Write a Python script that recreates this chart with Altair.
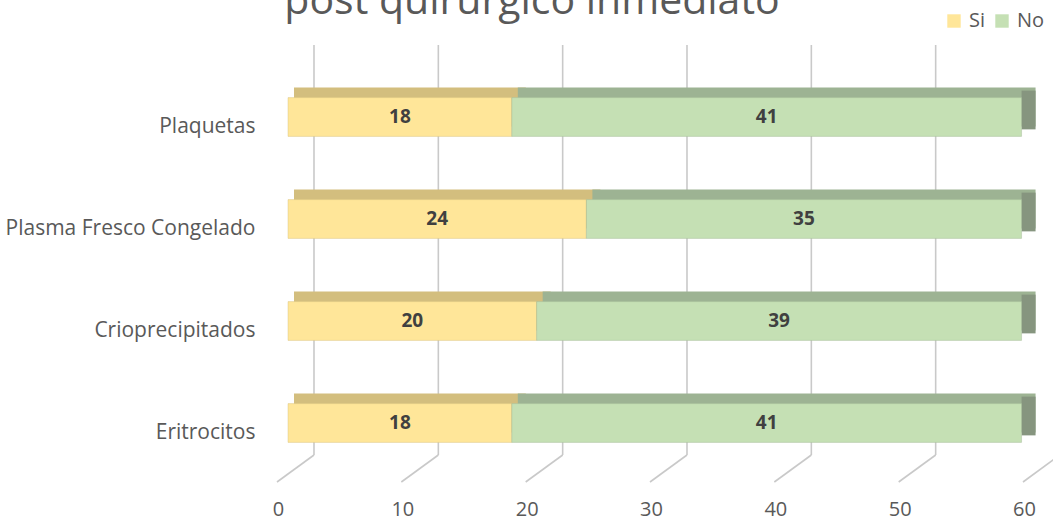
import altair as alt
import pandas as pd

# Hemoderivados transfundidos: Si / No por producto
categories = ["Plaquetas", "Plasma Fresco Congelado", "Crioprecipitados", "Eritrocitos"]
si_values = [18, 24, 20, 18]
no_values = [41, 35, 39, 41]
series = ["Si", "No"]
tick_values = [0, 10, 20, 30, 40, 50, 60]
title_line = "post quirúrgico inmediato"

front_colors = ["#FFE699", "#C5E0B4"]
top_colors = ["#D3BE7E", "#9DB393"]
side_color = "#86957F"
grid_color = "#C9C9C9"
text_color = "#595959"
FONT = "Open Sans"

rows = []
for cat, s, n in zip(categories, si_values, no_values):
    rows.append({"cat": cat, "serie": "Si", "start": 0, "end": s, "val": s})
    rows.append({"cat": cat, "serie": "No", "start": s, "end": s + n, "val": n})
bars = pd.DataFrame(rows)
bars["mid"] = (bars["start"] + bars["end"]) / 2
grid = pd.DataFrame({"v": tick_values})

xscale = alt.Scale(domain=[0, 60], nice=False, zero=False)
yscale = alt.Scale(domain=categories, paddingInner=0.62, paddingOuter=0.31)
DX, DY = 10, 10

x_axis = alt.Axis(
    values=tick_values, title=None, domain=False, ticks=False, grid=False,
    labelFontSize=20, labelColor=text_color, labelPadding=25,
    labelOffset=-10, labelFlush=False, labelFont=FONT,
)
y_axis = alt.Axis(
    title=None, domain=False, ticks=False, grid=False,
    labelFontSize=21, labelColor=text_color, labelPadding=33,
    labelOffset=10, labelFont=FONT, labelLimit=400,
)


def xenc(field):
    return alt.X(field, scale=xscale, axis=x_axis)


def yenc():
    return alt.Y("cat:N", scale=yscale, sort=categories, axis=y_axis)


base = alt.Chart(bars)

# back wall gridlines and their floor segments
grid_wall = alt.Chart(grid).mark_rule(color=grid_color, strokeWidth=1.6, xOffset=26).encode(
    x=xenc("v:Q"),
    y=alt.value(-21),
    y2=alt.value(389),
)
grid_floor = alt.Chart(grid).mark_rule(
    color=grid_color, strokeWidth=1.6, xOffset=26, x2Offset=-11
).encode(
    x=xenc("v:Q"),
    x2="v:Q",
    y=alt.value(389),
    y2=alt.value(416),
)

# depth faces of the 3D bars
back = base.mark_bar(xOffset=DX - 4, x2Offset=DX + 4, yOffset=-DY).encode(
    x=xenc("start:Q"),
    x2="end:Q",
    y=yenc(),
    color=alt.Color("serie:N", scale=alt.Scale(domain=series, range=top_colors), legend=None),
)
side = base.transform_filter(alt.datum.serie == "No").mark_bar(
    x2Offset=DX + 4, yOffset=-DY + 3, color=side_color
).encode(
    x=xenc("end:Q"),
    x2="end:Q",
    y=yenc(),
)

front = base.mark_bar(strokeWidth=0.8, strokeOpacity=0.5).encode(
    x=xenc("start:Q"),
    x2="end:Q",
    y=yenc(),
    color=alt.Color(
        "serie:N",
        scale=alt.Scale(domain=series, range=front_colors),
        legend=alt.Legend(
            title=None, orient="none", legendX=656, legendY=-55, direction="horizontal",
            symbolType="square", symbolSize=180, symbolStrokeWidth=0,
            labelFontSize=20, labelColor=text_color, labelFont=FONT,
            columnPadding=6, labelOffset=5,
        ),
    ),
    stroke=alt.Stroke("serie:N", scale=alt.Scale(domain=series, range=top_colors), legend=None),
)

labels = base.mark_text(fontSize=19, fontWeight="bold", color="#404040", font=FONT).encode(
    x=xenc("mid:Q"),
    y=yenc(),
    text=alt.Text("val:Q"),
)

title = alt.Chart(pd.DataFrame({"t": [title_line]})).mark_text(
    fontSize=41, color=text_color, font=FONT, baseline="alphabetic", align="center"
).encode(
    x=alt.value(244),
    y=alt.value(-52),
    text="t:N",
)

chart = (
    alt.layer(grid_wall, grid_floor, back, side, front, labels, title)
    .resolve_scale(color="independent", stroke="independent")
    .properties(
        width=746,
        height=408,
        autosize=alt.AutoSizeParams(type="none"),
        padding={"left": 288, "top": 66, "right": 19, "bottom": 51},
        background="white",
    )
    .configure_view(stroke=None)
)

chart.save("out.html", embed_options={"renderer": "svg", "actions": False})
